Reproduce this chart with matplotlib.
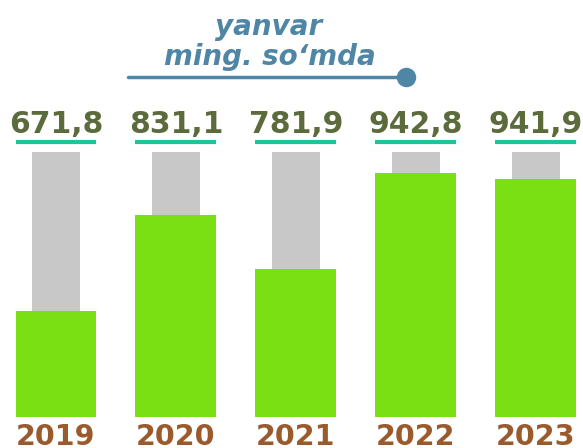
import matplotlib
matplotlib.use("Agg")
import matplotlib.pyplot as plt

years = ["2019", "2020", "2021", "2022", "2023"]
value_labels = ["671,8", "831,1", "781,9", "942,8", "941,9"]
bar_heights = [39.9, 76.1, 55.7, 92.1, 89.7]   # relative height of green bars
track = [100, 100, 100, 100, 100]              # grey background bars
title_lines = ["yanvar", "ming. so\u2018mda"]

GREEN = "#7ae014"
GRAY = "#c8c8c8"
TEAL = "#19c79a"
OLIVE = "#5b6b3c"
BROWN = "#9a5a2c"
BLUE = "#4f86a6"

fig = plt.figure(figsize=(5.83, 4.48), dpi=100)
ax = fig.add_axes([0, 0, 1, 1])
ax.set_xlim(-0.4667, 4.392)
ax.set_ylim(-11.8, 157.2)
ax.axis("off")

x = list(range(len(years)))
ax.bar(x, track, width=0.4, color=GRAY, zorder=1)
ax.bar(x, bar_heights, width=0.675, color=GREEN, zorder=2)

for i in x:
    ax.text(i, 107.1, value_labels[i], ha="center", va="baseline",
            fontsize=21.5, fontweight="bold", color=OLIVE, family="DejaVu Sans")
    ax.plot([i - 0.3375, i + 0.3375], [103.7, 103.7], color=TEAL, lw=3,
            solid_capstyle="butt")
    ax.text(i, -10.6, years[i], ha="center", va="baseline",
            fontsize=20.5, fontweight="bold", color=BROWN, family="DejaVu Sans")

ax.text(1.77, 144.0, title_lines[0], ha="center", va="baseline", fontsize=20,
        fontweight="bold", style="italic", color=BLUE, family="DejaVu Sans")
ax.text(1.783, 132.5, title_lines[1], ha="center", va="baseline", fontsize=20,
        fontweight="bold", style="italic", color=BLUE, family="DejaVu Sans")
ax.plot([0.6, 2.917], [128.2, 128.2], color=BLUE, lw=2.5, solid_capstyle="round")
ax.plot([2.917], [128.2], marker="o", markersize=13, color=BLUE)

fig.savefig("out.png", dpi=100)
